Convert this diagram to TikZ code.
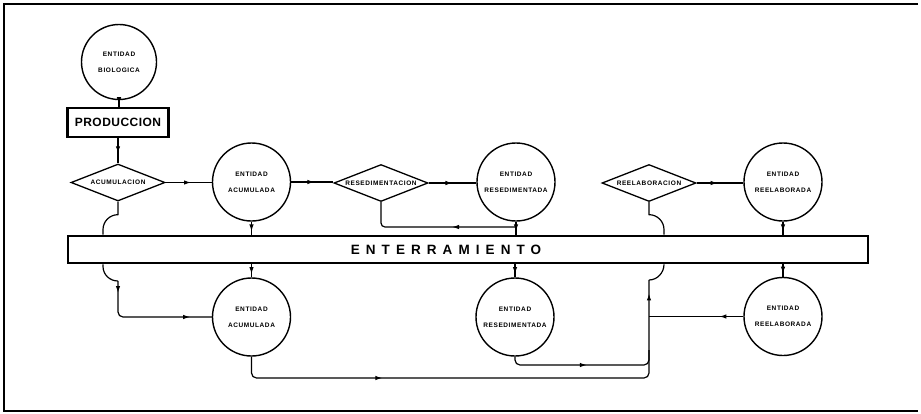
\documentclass[tikz,border=0pt]{standalone}
\usepackage{fontspec}
\usetikzlibrary{shapes.geometric,arrows.meta,decorations.markings}
\newfontfamily\labfont[LetterSpace=9]{Liberation Sans}
\newfontfamily\prodfont[LetterSpace=4]{Liberation Sans}
\newfontfamily\barfont[LetterSpace=45]{Liberation Sans}
\tikzset{
 ln/.style={line width=1.2pt},
 tipat/.style={postaction={decorate,decoration={markings,mark=at position #1 with {\arrow{Latex[length=7pt,width=4.5pt]}}}}},
 ent/.style={circle,draw,line width=1.4pt,minimum size=78pt,inner sep=0pt,align=center,font=\labfont\bfseries\fontsize{6.5}{16}\selectfont},
 dec/.style={diamond,draw,line width=1.3pt,minimum width=94pt,minimum height=37pt,inner sep=0pt,font=\labfont\bfseries\fontsize{6.5}{8}\selectfont},
 boxp/.style={rectangle,draw,line width=2.2pt,minimum width=101pt,minimum height=29pt,inner sep=0pt,font=\prodfont\bfseries\fontsize{12}{14}\selectfont},
 barbox/.style={rectangle,draw,fill=white,line width=2.2pt,minimum width=800pt,minimum height=27.5pt,inner sep=0pt},
 bartxt/.style={inner sep=0pt,font=\barfont\bfseries\fontsize{13.5}{16}\selectfont},
}
\begin{document}
\begin{tikzpicture}[x=1pt,y=1pt]
\useasboundingbox (0,0) rectangle (921,-413);
\draw[line width=1.5pt] (918,-4) -- (4,-4) -- (4,-411) -- (918,-411);
% nodes
\node[ent,minimum size=75pt] (bio) at (119,-62) {\makebox[0pt]{ENTIDAD}\\\makebox[0pt]{BIOLOGICA}};
\node[boxp] (prod) at (118,-122.5) {PRODUCCION};
\node[dec] (acum) at (118,-182.5) {\makebox[0pt]{ACUMULACION}};
\node[ent] (acu1) at (251.5,-182) {\makebox[0pt]{ENTIDAD}\\\makebox[0pt]{ACUMULADA}};
\node[dec] (res) at (381,-183) {\makebox[0pt]{RESEDIMENTACION}};
\node[ent] (resd1) at (516,-182) {\makebox[0pt]{ENTIDAD}\\\makebox[0pt]{RESEDIMENTADA}};
\node[dec] (reel) at (649,-183) {\makebox[0pt]{REELABORACION}};
\node[ent] (reeld1) at (783,-182) {\makebox[0pt]{ENTIDAD}\\\makebox[0pt]{REELABORADA}};
\node[barbox] (bar) at (468,-249.5) {};
\node[bartxt] (bartext) at (446,-250) {ENTERRAMIENTO};
\node[ent] (acu2) at (251.5,-317) {\makebox[0pt]{ENTIDAD}\\\makebox[0pt]{ACUMULADA}};
\node[ent] (resd2) at (515,-317) {\makebox[0pt]{ENTIDAD}\\\makebox[0pt]{RESEDIMENTADA}};
\node[ent] (reeld2) at (783,-316.5) {\makebox[0pt]{ENTIDAD}\\\makebox[0pt]{REELABORADA}};
% helper coordinates
\coordinate (hopL) at (103,0);
\coordinate (hopR) at (664,0);
\coordinate (jR) at (649,0);
\coordinate (jL) at (118,0);
\coordinate (yj) at (0,-227);
\coordinate (yb1) at (0,-378);
\coordinate (yb2) at (0,-365);
\coordinate (yb3) at (0,-350);
\coordinate (yh) at (0,-280);
\coordinate (yhl) at (0,-281);
% top chain
\draw[ln,tipat=0.6] (bio.south) -- (bio.south |- prod.north);
\draw[ln,tipat=0.6] (prod.south) -- (prod.south |- acum.north);
\draw[ln,tipat=0.55] (acum.east) -- (acum.east -| acu1.west);
\draw[ln,tipat=0.55] (acu1.east) -- (acu1.east -| res.west);
\draw[ln,tipat=0.5] (res.east) -- (res.east -| resd1.west);
\draw[ln,tipat=0.45] (reel.east) -- (reel.east -| reeld1.west);
% to and from the bar
\draw[ln,tipat=0.75] (acu1.south) -- (acu1.south |- bar.north);
\draw[ln,tipat=0.75] (acu2.north |- bar.south) -- (acu2.north);
\draw[ln,tipat=0.75] (resd1.south) -- (resd1.south |- bar.north);
\draw[ln,tipat=0.75] (resd2.north |- bar.south) -- (resd2.north);
\draw[ln,tipat=0.75] (reeld1.south) -- (reeld1.south |- bar.north);
\draw[ln,tipat=0.75] (reeld2.north |- bar.south) -- (reeld2.north);
% return to resedimentacion
\draw[ln,rounded corners=4pt,tipat=64pt] (resd1.south |- yj) -- (res.south |- yj) -- (res.south);
% acumulacion bypass (hops round the bar)
\draw[ln] (acum.south) -- ++(0,-13) .. controls +(-8.3,0) and +(0,8.3) .. ++(-15,-15) -- (hopL |- bar.north);
\draw[ln] (hopL |- bar.south) -- ++(0,-2) .. controls +(0,-8.3) and +(-8.3,0) .. (jL |- yhl);
\draw[ln,rounded corners=5pt,tipat=12pt,tipat=106pt] (jL |- yhl) -- (jL |- acu2.west) -- (acu2.west);
% flows back to reelaboracion
\draw[ln,rounded corners=5pt,tipat=150pt,tipat=499pt] (acu2.south) -- (acu2.south |- yb1) -- (jR |- yb1) -- (jR |- yh);
\draw[ln] (jR |- yh) .. controls +(8.3,0) and +(0,-8.3) .. (hopR |- bar.south);
\draw[ln] (hopR |- bar.north) -- ++(0,5) .. controls +(0,8.3) and +(8.3,0) .. ++(-15,15) -- (reel.south);
\draw[ln,rounded corners=5pt,tipat=78pt] (resd2.south) -- (resd2.south |- yb2) -- (jR |- yb2) -- (jR |- yb3);
\draw[ln,tipat=24pt] (reeld2.west) -- (reeld2.west -| jR);
\end{tikzpicture}
\end{document}
